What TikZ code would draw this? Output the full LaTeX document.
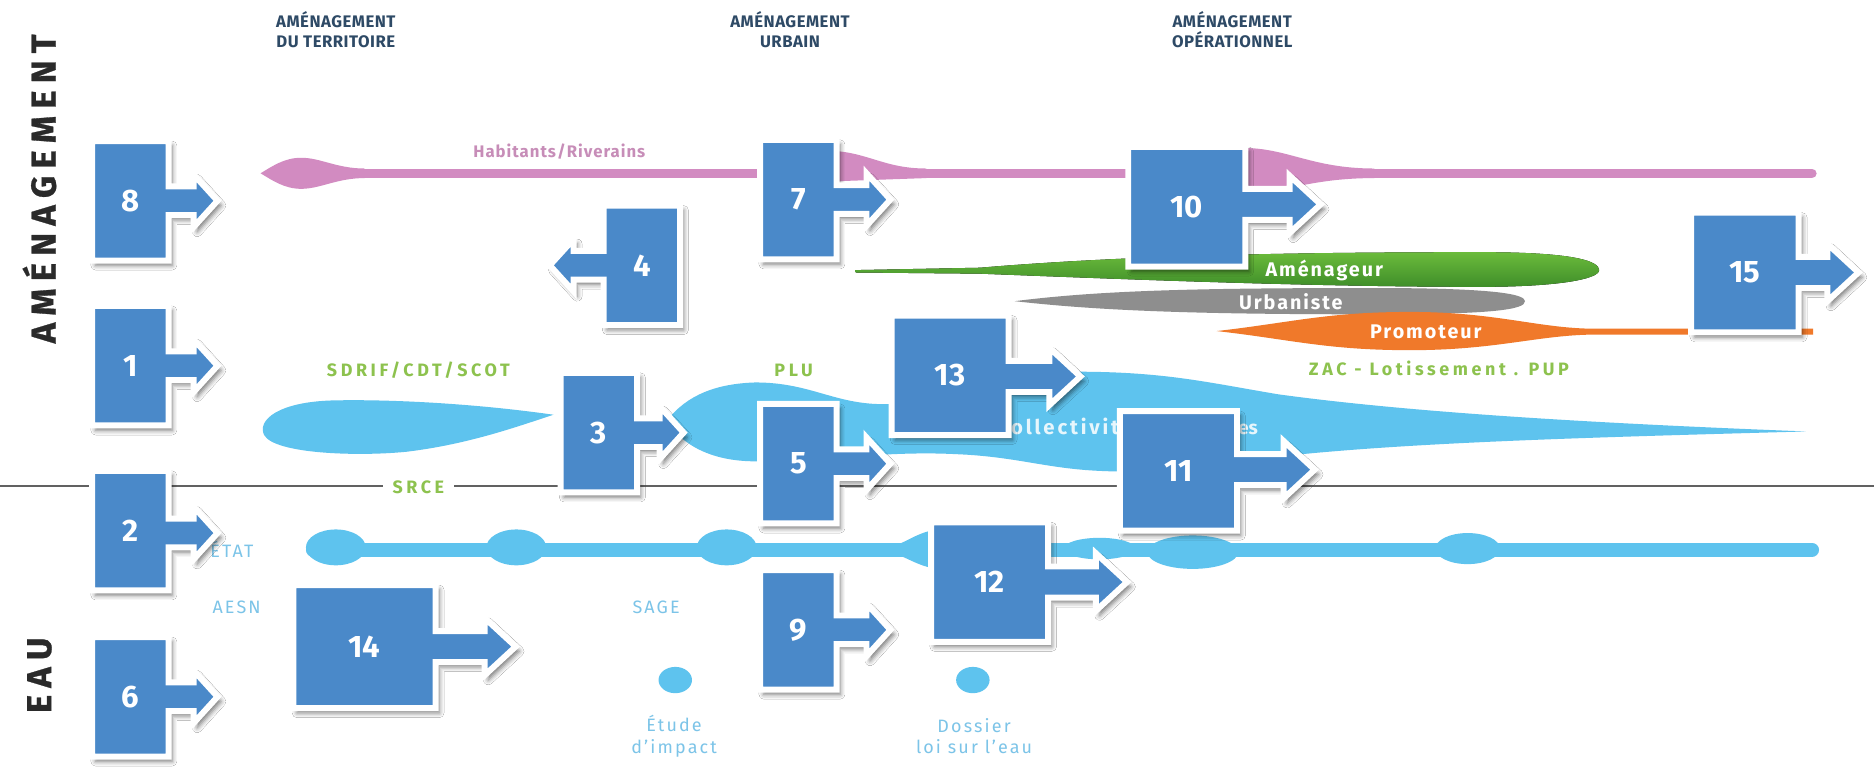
\documentclass[tikz,border=0pt]{standalone}
\usepackage{fontspec}
\setmainfont{Fira Sans}
\usetikzlibrary{shadows.blur}
\definecolor{boxblue}{HTML}{4A89C9}
\definecolor{bandblue}{HTML}{5EC3EE}
\definecolor{pinkband}{HTML}{D28BC1}
\definecolor{greenband}{HTML}{6BBB3B}
\definecolor{darkgreen}{HTML}{3F8E2A}
\definecolor{grayband}{HTML}{8E8E8E}
\definecolor{orangeband}{HTML}{F0792A}
\definecolor{headc}{HTML}{2E4A66}
\definecolor{lgreen}{HTML}{8DC24E}
\definecolor{lblue}{HTML}{7CC4E8}
\definecolor{pinktext}{HTML}{C78DB8}
\definecolor{vertc}{HTML}{2A2A2A}
\tikzset{
  boxshape/.style={fill=boxblue, draw=white, line width=5pt, line join=miter,
    blur shadow={shadow xshift=3pt, shadow yshift=-4pt, shadow blur radius=4pt, shadow opacity=55}},
  boxlabel/.style={text=white, font=\bfseries\fontsize{26}{26}\selectfont, inner sep=0pt},
  head/.style={text=headc, font=\bfseries\fontsize{14}{16.5}\selectfont\addfontfeature{LetterSpace=3}, align=center, inner sep=0pt},
  vert/.style={text=vertc, font=\bfseries\fontsize{29}{29}\selectfont\addfontfeature{FakeBold=0.8}, rotate=90, inner sep=0pt},
  greenlbl/.style={text=lgreen, font=\bfseries\fontsize{15}{15}\selectfont\addfontfeature{LetterSpace=20}, inner sep=1pt},
  bluelbl/.style={text=lblue, font=\fontsize{15}{18}\selectfont\addfontfeature{LetterSpace=12}, align=center, inner sep=0pt},
  bandlbl/.style={text=white, font=\bfseries\fontsize{16.5}{16.5}\selectfont\addfontfeature{LetterSpace=10}, inner sep=0pt},
  sepline/.style={draw=black!62, line width=1.6pt},
}
\newcommand\bxHL{20}
\newcommand\bxSH{24}
\newcommand\bxHH{44}
% name, cx, cy, w, h, dir, shaft length, arrow y, label
\newcommand\abox[9]{%
 \pgfmathsetmacro\bxE{#2+(#6)*(#4)/2}%
 \pgfmathsetmacro\bxO{#2-(#6)*(#4)/2}%
 \pgfmathsetmacro\bxYa{#3-(#5)/2}%
 \pgfmathsetmacro\bxYb{#3+(#5)/2}%
 \pgfmathsetmacro\bxS{\bxE+(#6)*(#7)}%
 \pgfmathsetmacro\bxT{\bxS+(#6)*\bxHL}%
 \pgfmathsetmacro\bxYs{#8-\bxSH/2}%
 \pgfmathsetmacro\bxYt{#8+\bxSH/2}%
 \pgfmathsetmacro\bxYh{#8-\bxHH/2}%
 \pgfmathsetmacro\bxYi{#8+\bxHH/2}%
 \path[boxshape] (\bxO,\bxYa) -- (\bxE,\bxYa) -- (\bxE,\bxYs) -- (\bxS,\bxYs) -- (\bxS,\bxYh) -- (\bxT,#8) -- (\bxS,\bxYi) -- (\bxS,\bxYt) -- (\bxE,\bxYt) -- (\bxE,\bxYb) -- (\bxO,\bxYb) -- cycle;
 \node[boxlabel] (#1) at (#2,#3) {#9};
}
\begin{document}
\begin{tikzpicture}[x=1pt,y=-1pt]
\useasboundingbox (0,0) rectangle (1568,652);
\fill[white] (0,0) rectangle (1568,652);

% headers
\node[head] (h1) at (281,25) {AMÉNAGEMENT\\DU TERRITOIRE};
\node[head] (h2) at (661,25) {AMÉNAGEMENT\\URBAIN};
\node[head] (h3) at (1031,25) {AMÉNAGEMENT\\OPÉRATIONNEL};

% vertical titles
\node[vert] (vam) at (33,158) {A\kern6pt M\kern6pt É\kern6pt N\kern6pt A\kern6pt G\kern6pt E\kern6pt M\kern6pt E\kern6pt N\kern6pt T};
\node[vert] (veau) at (33,565) {E\kern6pt A\kern6pt U};

% separator line
\coordinate (sl) at (0,407);
\coordinate (sr) at (1568,407);
\draw[sepline] (sl) -- (sr);

% pink band
\fill[pinkband] (218,145) .. controls (228,139) and (238,132) .. (252,132) .. controls (268,132) and (282,141) .. (305,141) -- (305,149) .. controls (282,149) and (268,158) .. (252,158) .. controls (238,158) and (228,151) .. (218,145) -- cycle;
\draw[pinkband, line width=8pt, line cap=round] (300,145) -- (1516,145);
\fill[pinkband] (690,126) .. controls (725,126) and (738,141) .. (775,141) -- (775,149) -- (690,152) -- cycle;
\fill[pinkband] (1035,124) .. controls (1075,122) and (1095,141) .. (1150,141) -- (1150,149) .. controls (1095,149) and (1075,162) .. (1035,162) -- cycle;
\node[text=pinktext, font=\bfseries\fontsize{14}{14}\selectfont\addfontfeature{LetterSpace=6}] (hab) at (468,127) {Habitants/Riverains};

% gray urbaniste
\fill[grayband] (849,252) .. controls (920,243) and (1000,241) .. (1150,241) .. controls (1250,241) and (1276,246) .. (1276,252) .. controls (1276,259) and (1250,263) .. (1150,263) .. controls (1000,263) and (920,260) .. (849,252) -- cycle;
% green amenageur
\fill[top color=greenband, middle color=greenband, bottom color=darkgreen] (716,226) -- (820,224) .. controls (950,213) and (1100,211) .. (1240,211) .. controls (1320,211) and (1338,219) .. (1338,226) .. controls (1338,234) and (1300,240) .. (1240,240) .. controls (1100,240) and (950,234) .. (820,229) -- (716,228) -- cycle;
% orange promoteur
\fill[orangeband] (1018,277) .. controls (1080,270) and (1110,261) .. (1180,261) .. controls (1250,261) and (1285,274) .. (1330,275) -- (1517,275) -- (1517,280) -- (1330,280) .. controls (1285,281) and (1250,293) .. (1180,293) .. controls (1110,293) and (1080,284) .. (1018,277) -- cycle;
\node[bandlbl] (amen) at (1108,226) {Aménageur};
\node[bandlbl] (urb) at (1080,252) {Urbaniste};
\node[bandlbl] (prom) at (1193,278) {Promoteur};

% blue bands
\fill[bandblue] (463,347) .. controls (400,338) and (330,334) .. (280,335) .. controls (232,336) and (215,352) .. (221,364) .. controls (230,380) and (300,382) .. (340,378) .. controls (390,372) and (430,358) .. (463,347) -- cycle;
\fill[bandblue] (558,352) .. controls (575,330) and (600,321) .. (632,320) .. controls (680,320) and (700,340) .. (745,338) .. controls (790,326) and (830,311) .. (900,311) .. controls (975,311) and (1010,320) .. (1070,330) .. controls (1180,345) and (1330,354) .. (1511,361) .. controls (1330,366) and (1180,370) .. (1070,382) .. controls (1010,392) and (960,396) .. (920,394) .. controls (875,392) and (850,382) .. (800,380) .. controls (740,377) and (690,386) .. (632,386) .. controls (595,386) and (570,372) .. (558,352) -- cycle;
\node[text=white!85!bandblue, font=\bfseries\fontsize{17}{17}\selectfont\addfontfeature{LetterSpace=14}, anchor=west, inner sep=0pt] (coll) at (834,357) {Collectivités\hspace{6pt}{\fontsize{16}{16}\selectfont\addfontfeature{LetterSpace=0}territoriales}};

% ETAT line
\draw[bandblue, line width=12pt, line cap=round] (262,460) -- (1516,460);
\fill[bandblue] (281,458) ellipse [x radius=25, y radius=15];
\fill[bandblue] (432,458) ellipse [x radius=25, y radius=15];
\fill[bandblue] (608,458) ellipse [x radius=25, y radius=15];
\fill[bandblue] (1228,459) ellipse [x radius=27, y radius=13];
\fill[bandblue] (735,460) .. controls (755,458) and (765,445) .. (785,443) -- (785,476) .. controls (765,474) and (755,462) .. (735,460) -- cycle;
\fill[bandblue] (920,459) ellipse [x radius=30, y radius=9];
\fill[bandblue] (998,462) ellipse [x radius=38, y radius=14];
\fill[bandblue] (565,569) ellipse [x radius=14, y radius=11];
\fill[bandblue] (814,569) ellipse [x radius=14, y radius=11];

% labels
\node[greenlbl] (sdrif) at (350,310) {SDRIF/CDT/SCOT};
\node[greenlbl] (plu) at (664,310) {PLU};
\node[greenlbl] (zac) at (1204,308) {ZAC - Lotissement . PUP};
\node[greenlbl, fill=white, inner xsep=8pt] (srce) at (350,408) {SRCE};
\node[bluelbl] (etat) at (194,460) {ÉTAT};
\node[bluelbl] (aesn) at (198,508) {AESN};
\node[bluelbl] (sage) at (549,508) {SAGE};
\node[bluelbl] (etude) at (564,616) {Étude\\d'impact};
\node[bluelbl] (doss) at (815,616) {Dossier\\loi sur l'eau};

% narrow boxes
\abox{b8}{109}{168}{64}{100}{1}{21}{168}{8}
\abox{b1}{109}{306}{64}{100}{1}{21}{306}{1}
\abox{b2}{109}{444}{64}{100}{1}{21}{446}{2}
\abox{b6}{109}{583}{64}{100}{1}{21}{583}{6}
\abox{b4}{537}{222}{64}{100}{-1}{25}{222}{4}
\abox{b3}{501}{362}{64}{100}{1}{19}{362}{3}
\abox{b7}{668}{167}{64}{100}{1}{25}{167}{7}
\abox{b5}{668}{388}{64}{100}{1}{25}{388}{5}
\abox{b9}{668}{527}{64}{100}{1}{25}{527}{9}
% wide boxes
\renewcommand\bxHL{26}
\renewcommand\bxSH{26}
\renewcommand\bxHH{48}
\abox{b14}{305}{541}{119}{103}{1}{41}{541}{14}
\abox{b13}{795}{314}{98}{100}{1}{34}{315}{13}
\abox{b12}{828}{487}{98}{100}{1}{40}{487}{12}
\abox{b10}{993}{173}{98}{100}{1}{37}{171}{10}
\abox{b11}{986}{394}{98}{100}{1}{39}{393}{11}
\abox{b15}{1460}{228}{90}{100}{1}{24}{228}{15}
\end{tikzpicture}
\end{document}
